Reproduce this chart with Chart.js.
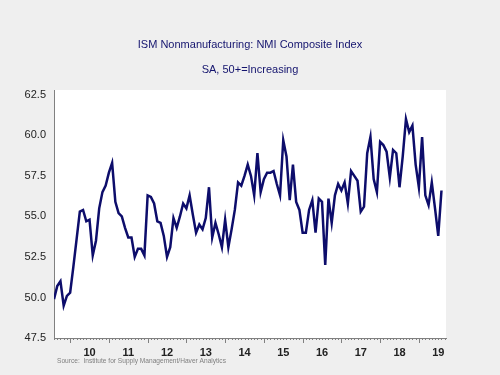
<!DOCTYPE html>
<html><head><meta charset="utf-8">
<script src="https://cdn.jsdelivr.net/npm/chart.js@4.4.1/dist/chart.umd.min.js"></script>
<style>html,body{margin:0;padding:0;background:#efefef;}#wrap{width:500px;height:375px;}</style>
</head><body><div id="wrap"><canvas id="c" width="500" height="375"></canvas></div>
<script>
// Monthly series, first value = Aug 2009, last = Aug 2019
const startYear = 2009;
const startMonth = 8;
const nmiValues = [
  49.9, 50.7, 51.0, 49.5, 50.1,                                  // 2009 Aug-Dec
  50.3, 51.9, 53.6, 55.3, 55.4, 54.7, 54.8, 52.6, 53.5, 55.5, 56.5, 56.9, // 2010
  57.7, 58.3, 55.9, 55.2, 55.0, 54.3, 53.7, 53.7, 52.5, 53.0, 53.0, 52.6, // 2011
  56.3, 56.2, 55.8, 54.7, 54.6, 53.8, 52.5, 53.1, 54.9, 54.3, 55.0, 55.8, // 2012
  55.5, 56.3, 55.1, 54.0, 54.5, 54.2, 54.9, 56.8, 53.7, 54.6, 53.9, 53.1, // 2013
  54.8, 53.1, 54.2, 55.4, 57.1, 56.9, 57.5, 58.2, 57.5, 56.3, 58.9, 56.5, // 2014
  57.3, 57.7, 57.7, 57.8, 57.0, 56.3, 59.7, 58.7, 56.0, 58.2, 55.9, 55.4, // 2015
  54.0, 54.0, 55.4, 56.0, 54.0, 56.1, 55.9, 52.0, 56.1, 54.6, 56.3, 57.0, // 2016
  56.6, 57.1, 55.8, 57.8, 57.5, 57.2, 55.3, 55.6, 58.9, 59.9, 57.3, 56.5, // 2017
  59.6, 59.4, 59.0, 57.4, 59.1, 58.9, 56.8, 58.7, 61.0, 60.2, 60.6, 58.2, // 2018
  56.8, 59.9, 56.3, 55.7, 57.1, 55.5, 53.8, 56.6                          // 2019 Jan-Aug
];
const yearLabels = ['10','11','12','13','14','15','16','17','18','19'];
const yTickValues = [47.5, 50.0, 52.5, 55.0, 57.5, 60.0, 62.5];
const titleText = 'ISM Nonmanufacturing: NMI Composite Index';
const subtitleText = 'SA, 50+=Increasing';
const sourceText = 'Source:  Institute for Supply Management/Haver Analytics';

const points = nmiValues.map((v, i) => ({ x: startYear + (startMonth - 1 + i) / 12, y: v }));
const xMin = startYear + (startMonth - 1) / 12;
const xMax = 2019.70;
const FONT = '"Liberation Sans", Arial, sans-serif';
const NAVY = '#14146e';
const GRAY = '#808080';

const bgPlugin = {
  id: 'bg',
  beforeDraw(chart) {
    const { ctx, chartArea: a } = chart;
    ctx.save();
    ctx.fillStyle = '#efefef';
    ctx.fillRect(0, 0, chart.width, chart.height);
    ctx.fillStyle = '#ffffff';
    ctx.fillRect(a.left, a.top, a.right - a.left, a.bottom - a.top);
    ctx.restore();
  }
};
const tickPlugin = {
  id: 'monthTicks',
  afterDraw(chart) {
    const xs = chart.scales.x, ctx = chart.ctx, y0 = chart.chartArea.bottom;
    ctx.save();
    ctx.strokeStyle = GRAY; ctx.lineWidth = 1;
    const m0 = Math.ceil(xMin * 12 - 1e-6), m1 = Math.floor(xMax * 12);
    for (let m = m0; m <= m1; m++) {
      const px = Math.round(xs.getPixelForValue(m / 12)) + 0.5;
      const len = (m % 12 === 0) ? 5 : 2;
      ctx.beginPath(); ctx.moveTo(px, y0); ctx.lineTo(px, y0 + len); ctx.stroke();
    }
    ctx.fillStyle = GRAY;
    ctx.font = '6.6px ' + FONT;
    ctx.textBaseline = 'middle';
    ctx.textAlign = 'left';
    ctx.fillText(sourceText, 57, 361);
    ctx.restore();
  }
};

new Chart(document.getElementById('c'), {
  type: 'line',
  data: { datasets: [{ data: points, borderColor: '#0d0d6b', borderWidth: 2.5, pointRadius: 0, tension: 0, fill: false }] },
  options: {
    responsive: false, animation: false, devicePixelRatio: 1,
    layout: { padding: 0 },
    plugins: {
      legend: { display: false }, tooltip: { enabled: false },
      title: { display: true, text: titleText, color: NAVY, font: { family: FONT, size: 11, weight: 'normal' }, padding: { top: 38, bottom: 11.8 } },
      subtitle: { display: true, text: subtitleText, color: NAVY, font: { family: FONT, size: 11, weight: 'normal' }, padding: { top: 0, bottom: 13.8 } }
    },
    scales: {
      x: {
        type: 'linear', min: xMin, max: xMax,
        afterFit(s) { s.height = 37; },
        afterBuildTicks(s) { s.ticks = yearLabels.map((l, k) => ({ value: 2010 + k + 0.5 })); },
        ticks: { autoSkip: false, maxRotation: 0, padding: 8, color: '#222222', font: { family: FONT, size: 11, weight: 'bold' },
          callback(v) { const k = Math.round(v - 0.5) - 2010; return yearLabels[k] ?? ''; } },
        grid: { display: false, drawTicks: false },
        border: { display: true, color: GRAY, width: 1 }
      },
      y: {
        min: 47.5, max: 62.8,
        afterFit(s) { s.width = 54; },
        afterBuildTicks(s) { s.ticks = yTickValues.map(v => ({ value: v })); },
        ticks: { padding: 8, color: '#222222', font: { family: FONT, size: 11 }, callback(v) { return v.toFixed(1); } },
        grid: { display: false, drawTicks: false },
        border: { display: true, color: GRAY, width: 1 }
      },
      yRight: {
        type: 'linear', position: 'right', min: 0, max: 1,
        afterFit(s) { s.width = 54; },
        ticks: { display: false },
        grid: { display: false, drawTicks: false },
        border: { display: false }
      }
    }
  },
  plugins: [bgPlugin, tickPlugin]
});
</script></body></html>
